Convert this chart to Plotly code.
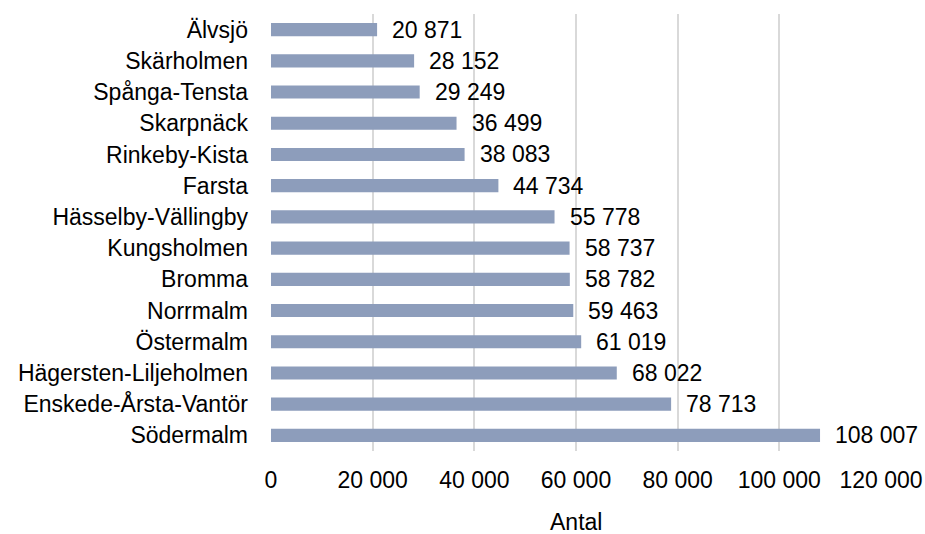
import plotly.graph_objects as go

districts = ["Älvsjö", "Skärholmen", "Spånga-Tensta", "Skarpnäck", "Rinkeby-Kista",
             "Farsta", "Hässelby-Vällingby", "Kungsholmen", "Bromma", "Norrmalm",
             "Östermalm", "Hägersten-Liljeholmen", "Enskede-Årsta-Vantör", "Södermalm"]
antal = [20871, 28152, 29249, 36499, 38083, 44734, 55778, 58737, 58782, 59463,
         61019, 68022, 78713, 108007]
x_ticks = [0, 20000, 40000, 60000, 80000, 100000, 120000]
x_title = "Antal"

FONT = "Liberation Sans, Arial, sans-serif"
labels = [f"{v:,}".replace(",", " ") for v in antal]

fig = go.Figure(go.Bar(
    x=antal, y=districts, orientation="h",
    marker=dict(color="#8D9DBB", line=dict(width=0)),
    width=0.42,
))

for v, d, t in zip(antal, districts, labels):
    fig.add_annotation(x=v, y=d, text=t, showarrow=False, xanchor="left",
                       xshift=13, font=dict(family=FONT, size=23, color="#000000"))

# axis title
fig.add_annotation(x=0.5, y=0, xref="paper", yref="paper", text=x_title,
                   showarrow=False, xanchor="center", yanchor="middle", yshift=-71,
                   borderpad=0,
                   font=dict(family=FONT, size=23, color="#000000"))

fig.update_layout(
    width=925, height=534,
    margin=dict(l=271, r=44, t=14, b=83),
    paper_bgcolor="white", plot_bgcolor="white",
    font=dict(family=FONT, size=23, color="#000000"),
    separators=", ",
    showlegend=False,
    bargap=0.58,
)
fig.update_xaxes(
    range=[0, 120000], tickvals=x_ticks,
    ticktext=[f"{v:,}".replace(",", " ") for v in x_ticks],
    showgrid=True, gridcolor="#D9D9D9", gridwidth=1.5,
    zeroline=False, showline=False, ticks="",
    ticklabelstandoff=13, automargin=False,
)
fig.update_yaxes(
    autorange="reversed", showgrid=False, showline=False, ticks="",
    ticklabelstandoff=22, automargin=False,
)

fig.write_html(
    "out.html",
    config={"displayModeBar": False},
    post_script="document.body.style.margin='0';document.body.style.overflow='hidden';",
)
